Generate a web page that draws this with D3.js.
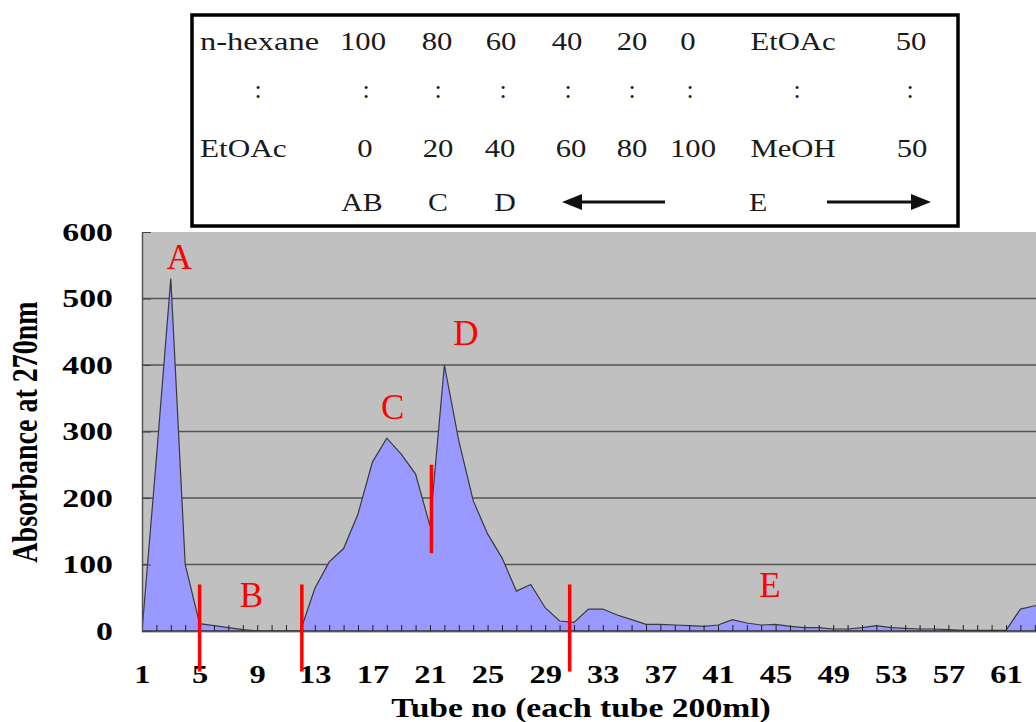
<!DOCTYPE html>
<html>
<head>
<meta charset="utf-8">
<script src="https://cdn.jsdelivr.net/npm/d3@7"></script>
<style>
  body { margin: 0; background: #fff; }
  svg { display: block; font-family: "Liberation Serif", "Times New Roman", serif; }
</style>
</head>
<body>
<div id="chart"></div>
<script>
// Absorbance at 270nm, one value per tube (tube 1 .. 64)
const tubes = d3.range(1, 65);
const absorbance = [0, 260, 530, 100, 11, 8, 5, 2, 0, 0, 0, 0, 64, 104, 124, 176, 254, 290, 266, 236,
                    158, 400, 286, 196, 146, 110, 60, 70, 35, 15, 13, 33, 33, 24, 17, 10, 10, 9, 8, 7,
                    9, 17, 12, 9, 10, 7, 5, 5, 3, 3, 5, 8, 5, 4, 3, 3, 2, 1, 1, 1,
                    1, 33, 38, 40];

const yTicks = [0, 100, 200, 300, 400, 500, 600];
const xTickLabels = [1, 5, 9, 13, 17, 21, 25, 29, 33, 37, 41, 45, 49, 53, 57, 61];

// fraction letters and where they sit (tube, absorbance)
const peakNames = ["A", "B", "C", "D", "E"];
const peakTube = [3.6, 8.6, 18.4, 23.5, 44.6];
const peakValue = [562, 54, 337, 448, 69];

// red fraction cut lines (tube, from value, to value)
const cutTube = [5, 12.1, 21.1, 30.7];
const cutTop = [70, 70, 250, 70];
const cutBottom = [-61, -61, 117, -61];

// solvent table
const solventTop = ["n-hexane", "100", "80", "60", "40", "20", "0", "EtOAc", "50"];
const solventBottom = ["EtOAc", "0", "20", "40", "60", "80", "100", "MeOH", "50"];
const fractionRow = ["AB", "C", "D", "E"];

const W = 1036, H = 722;
const plot = { left: 142, right: 1036, top: 232, bottom: 631 };
const serif = '"Liberation Serif", "Times New Roman", serif';

const svg = d3.select("#chart").append("svg")
    .attr("width", W)
    .attr("height", H);

const x = d3.scaleLinear().domain([1, 61]).range([142, 1006]);
const y = d3.scaleLinear().domain([0, 600]).range([plot.bottom, plot.top]);

// text in the source is wider than the font, so stretch it sideways
function stretch(sel, sx) {
  sel.each(function() {
    const t = d3.select(this);
    const tx = +t.attr("x") || 0, ty = +t.attr("y") || 0;
    t.attr("x", 0).attr("y", 0).attr("transform", `translate(${tx},${ty}) scale(${sx},1)`);
  });
}

// ---- solvent table ----
const tbl = svg.append("g").attr("fill", "#1a1a1a").style("font-size", "26px");
tbl.append("rect")
  .attr("x", 192).attr("y", 15).attr("width", 766).attr("height", 211)
  .attr("fill", "#fff").attr("stroke", "#000").attr("stroke-width", 3.5);

const colTop = [363, 437, 501, 567, 632, 688, 793, 911];
const colBottom = [365, 438, 500, 571, 632, 693, 793, 912];
const colColon = [258, 366, 438, 503, 568, 632, 690, 797, 910];

tbl.append("text").attr("x", 200).attr("y", 50).text(solventTop[0]).call(stretch, 1.25);
tbl.selectAll(".top").data(solventTop.slice(1)).enter().append("text")
  .attr("class", "top").attr("text-anchor", "middle")
  .attr("x", (d, i) => colTop[i]).attr("y", 50).text(d => d).call(stretch, 1.18);

tbl.selectAll(".colon").data(colColon).enter().append("text")
  .attr("class", "colon").attr("text-anchor", "middle")
  .attr("x", d => d).attr("y", 98).text(":");

tbl.append("text").attr("x", 200).attr("y", 157).text(solventBottom[0]).call(stretch, 1.2);
tbl.selectAll(".bot").data(solventBottom.slice(1)).enter().append("text")
  .attr("class", "bot").attr("text-anchor", "middle")
  .attr("x", (d, i) => colBottom[i]).attr("y", 157).text(d => d).call(stretch, 1.18);

const colFrac = [362, 438, 505, 758];
tbl.selectAll(".frac").data(fractionRow).enter().append("text")
  .attr("class", "frac").attr("text-anchor", "middle")
  .attr("x", (d, i) => colFrac[i]).attr("y", 211).text(d => d).call(stretch, 1.15);

// arrows
tbl.append("line").attr("x1", 578).attr("x2", 665).attr("y1", 202).attr("y2", 202)
  .attr("stroke", "#111").attr("stroke-width", 3);
tbl.append("path").attr("d", "M562,202 L582,194 L582,210 Z").attr("fill", "#111");
tbl.append("line").attr("x1", 827).attr("x2", 915).attr("y1", 202).attr("y2", 202)
  .attr("stroke", "#111").attr("stroke-width", 3);
tbl.append("path").attr("d", "M931,202 L911,194 L911,210 Z").attr("fill", "#111");

// ---- plot area ----
svg.append("clipPath").attr("id", "clip").append("rect")
  .attr("x", plot.left).attr("y", plot.top - 2)
  .attr("width", plot.right - plot.left).attr("height", plot.bottom - plot.top + 2);

svg.append("rect")
  .attr("x", plot.left).attr("y", plot.top)
  .attr("width", plot.right - plot.left).attr("height", plot.bottom - plot.top + 2)
  .attr("fill", "#c0c0c0");

// gridlines
svg.append("g").selectAll("line").data(yTicks.filter(d => d > 0 && d < 600)).enter().append("line")
  .attr("x1", plot.left).attr("x2", plot.right)
  .attr("y1", d => y(d)).attr("y2", d => y(d))
  .attr("stroke", "#555").attr("stroke-width", 1.3);

const data = tubes.map((t, i) => ({ tube: t, value: absorbance[i] }));

const gData = svg.append("g").attr("clip-path", "url(#clip)");
gData.append("path")
  .datum(data)
  .attr("fill", "#9999ff")
  .attr("d", d3.area().x(d => x(d.tube)).y0(y(0)).y1(d => y(d.value)));
gData.append("path")
  .datum(data)
  .attr("fill", "none")
  .attr("stroke", "#3a3a3a")
  .attr("stroke-width", 1.2)
  .attr("d", d3.line().x(d => x(d.tube)).y(d => y(d.value)));

// x axis: tick at every tube, label every 4th
const xAxis = svg.append("g")
  .attr("transform", `translate(0,${plot.bottom})`)
  .call(d3.axisBottom(x)
    .tickValues(d3.range(1, 64))
    .tickSize(-6)
    .tickSizeOuter(0)
    .tickPadding(34)
    .tickFormat(d => xTickLabels.includes(d) ? d : ""))
  .attr("font-family", serif);
xAxis.select(".domain").attr("stroke", "#333").attr("stroke-width", 1.5).attr("d", `M${plot.left},0H${plot.right}`);
xAxis.selectAll(".tick line").attr("stroke", "#222");
xAxis.selectAll("text")
  .style("font-size", "26px").style("font-weight", "bold")
  .attr("fill", "#000").call(stretch, 1.25);

// y axis
const yAxis = svg.append("g")
  .attr("transform", `translate(${plot.left},0)`)
  .call(d3.axisLeft(y).tickValues(yTicks).tickSize(-9).tickSizeOuter(0).tickPadding(29))
  .attr("font-family", serif);
yAxis.select(".domain").attr("stroke", "#555").attr("stroke-width", 1.5);
yAxis.selectAll(".tick line").attr("stroke", "#444");
yAxis.selectAll("text")
  .style("font-size", "26px").style("font-weight", "bold")
  .attr("fill", "#000").call(stretch, 1.3);

// red cut lines
svg.append("g").selectAll("line").data(cutTube).enter().append("line")
  .attr("x1", d => x(d)).attr("x2", d => x(d))
  .attr("y1", (d, i) => y(cutTop[i])).attr("y2", (d, i) => y(cutBottom[i]))
  .attr("stroke", "#ff0000").attr("stroke-width", 3.5);

// fraction letters
svg.append("g").selectAll("text").data(peakNames).enter().append("text")
  .attr("x", (d, i) => x(peakTube[i])).attr("y", (d, i) => y(peakValue[i]))
  .attr("dy", "0.34em")
  .attr("text-anchor", "middle")
  .attr("fill", "#ff0000")
  .style("font-size", "35px")
  .text(d => d);

// axis titles
svg.append("text")
  .attr("text-anchor", "middle")
  .attr("transform", "translate(25,432) rotate(-90) scale(1,1.25)")
  .attr("dy", "0.35em")
  .style("font-size", "28px").style("font-weight", "bold")
  .text("Absorbance at 270nm");

svg.append("text")
  .attr("text-anchor", "middle")
  .attr("x", 581).attr("y", 717)
  .style("font-size", "28px").style("font-weight", "bold")
  .text("Tube no (each tube 200ml)")
  .call(stretch, 1.2);
</script>
</body>
</html>
